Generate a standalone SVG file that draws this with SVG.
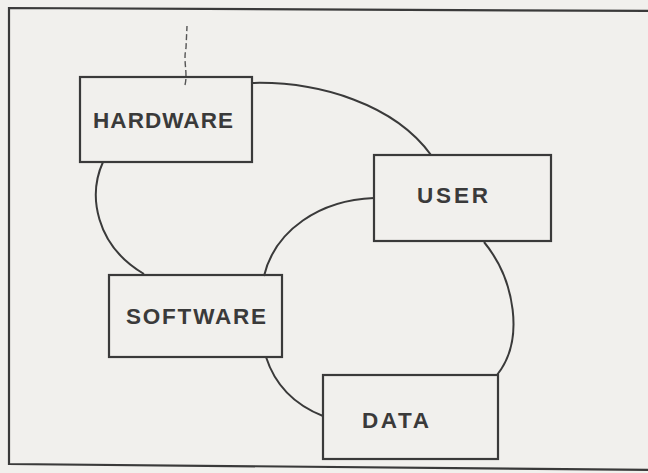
<svg xmlns="http://www.w3.org/2000/svg" width="648" height="473" viewBox="0 0 648 473">
<style>
.bg{fill:#f1f0ed}
.frame{fill:none;stroke:#3a3a3a;stroke-width:2.2}
.box{fill:none;stroke:#3a3a3a;stroke-width:2.2}
.conn{fill:none;stroke:#3a3a3a;stroke-width:2}
.lbl{font-family:"Liberation Sans",Arial,sans-serif;font-weight:bold;font-size:22.5px;fill:#3a3a3a}
.mark{fill:none;stroke:#555;stroke-width:1.4;stroke-dasharray:6 3}
</style>
<rect class="bg" x="0" y="0" width="648" height="473"/>
<polyline class="frame" points="660,11 9,8 9,464 660,470"/>
<path class="mark" d="M185,85 C188,72 183,62 186,48 L187,26"/>
<g id="connectors">
<path class="conn" d="M251,83 C320,81 395,105 431,155"/>
<path class="conn" d="M103,162 C88,195 95,245 144,274"/>
<path class="conn" d="M374,198 C320,200 275,230 264,276"/>
<path class="conn" d="M484,242 C515,280 525,340 497,375"/>
<path class="conn" d="M266,357 C275,385 295,405 323,416"/>
</g>
<g id="hardware">
<rect class="box" x="80" y="77" width="172" height="85"/>
<text class="lbl" x="93" y="128" textLength="140" lengthAdjust="spacing">HARDWARE</text>
</g>
<g id="user">
<rect class="box" x="374" y="155" width="177" height="86"/>
<text class="lbl" x="417" y="203" textLength="71" lengthAdjust="spacing">USER</text>
</g>
<g id="software">
<rect class="box" x="109" y="275" width="173" height="82"/>
<text class="lbl" x="126" y="324" textLength="140" lengthAdjust="spacing">SOFTWARE</text>
</g>
<g id="data">
<rect class="box" x="323" y="375" width="175" height="84"/>
<text class="lbl" x="362" y="428" textLength="67" lengthAdjust="spacing">DATA</text>
</g>
</svg>
